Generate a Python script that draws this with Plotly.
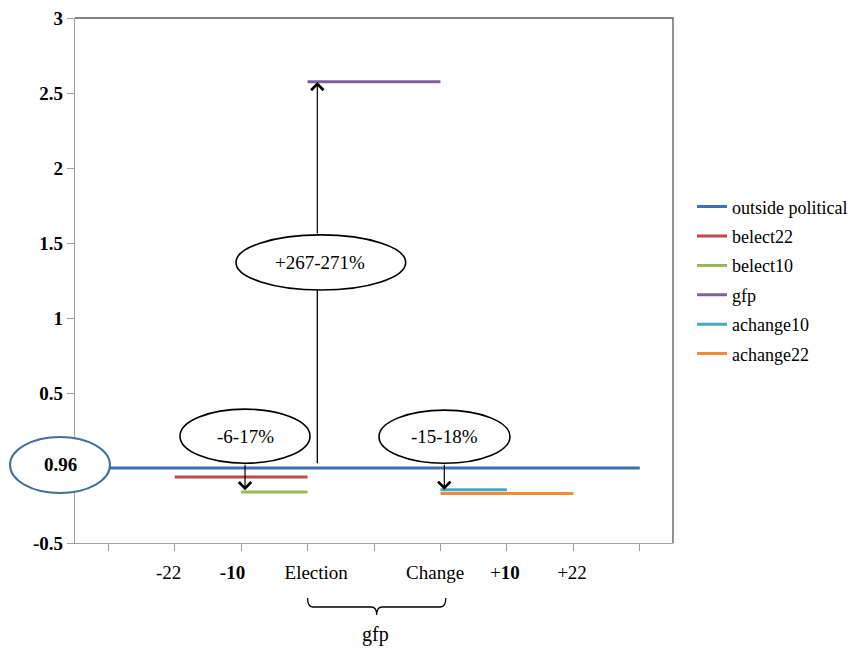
import plotly.graph_objects as go

# ---------------- data ----------------
positions = list(range(9))  # category slots along the x axis
tick_positions = [0.91, 1.87, 3.13, 4.92, 5.97, 6.98]
tick_labels = ["-22", "<b>-10</b>", "Election", "Change", "+<b>10</b>", "+22"]

y_tick_values = [-0.5, 0, 0.5, 1, 1.5, 2, 2.5, 3]
y_tick_labels = ["-0.5", "", "0.5", "1", "1.5", "2", "2.5", "3"]  # 0 is hidden behind the 0.96 ellipse

series_names = ["outside political", "belect22", "belect10", "gfp", "achange10", "achange22"]
outside_political = [0, 0, 0, 0, 0, 0, 0, 0, 0]
belect22 = [None, -0.06, -0.06, -0.06, None, None, None, None, None]
belect10 = [None, None, -0.16, -0.16, None, None, None, None, None]
gfp = [None, None, None, 2.575, 2.575, 2.575, None, None, None]
achange10 = [None, None, None, None, None, -0.145, -0.145, None, None]
achange22 = [None, None, None, None, None, -0.17, -0.17, -0.17, None]
series_values = [outside_political, belect22, belect10, gfp, achange10, achange22]
series_colors = ["#3F6FAE", "#BE4B48", "#98B954", "#7D60A0", "#46AAC4", "#F28A3C"]

baseline_label = "0.96"
callouts = ["-6-17%", "+267-271%", "-15-18%"]
brace_label = "gfp"

FONT = "Liberation Serif, DejaVu Serif, Times New Roman, serif"

fig = go.Figure()
for name, vals, col in zip(series_names, series_values, series_colors):
    fig.add_trace(go.Scatter(
        x=positions, y=vals, mode="lines", name=name,
        line=dict(color=col, width=3), legendgroup=name,
        connectgaps=False, hoverinfo="skip"))

shapes = []
# top/right frame
shapes.append(dict(type="path", xref="x domain", yref="y domain",
                   path="M0,1 L1,1 L1,0", line=dict(color="#595959", width=1.3),
                   layer="above"))
# ellipses (callouts)
shapes.append(dict(type="circle", xref="x", yref="y", x0=1.080, x1=3.037, y0=0.032, y1=0.3925,
                   line=dict(color="black", width=1.6), fillcolor="white", layer="above"))
shapes.append(dict(type="circle", xref="x", yref="y", x0=1.923, x1=4.477, y0=1.187, y1=1.554,
                   line=dict(color="black", width=1.6), fillcolor="white", layer="above"))
shapes.append(dict(type="circle", xref="x", yref="y", x0=4.075, x1=6.047, y0=0.032, y1=0.386,
                   line=dict(color="black", width=1.6), fillcolor="white", layer="above"))
# baseline ellipse covering the 0 tick
shapes.append(dict(type="circle", xref="paper", yref="paper", x0=-0.1087, x1=0.0585, y0=0.0952, y1=0.2019,
                   line=dict(color="#41719C", width=2), fillcolor="white", layer="above"))
# vertical line under the +267-271% callout
shapes.append(dict(type="line", xref="x", yref="y", x0=3.147, x1=3.147, y0=0.032, y1=1.187,
                   line=dict(color="black", width=1.3), layer="above"))
# brace under Election..Change
shapes.append(dict(type="path", xref="x", yref="paper",
                   path="M3.0,-0.1048 Q3.0,-0.1219 3.08,-0.1219 L3.96,-0.1219 Q4.04,-0.1219 4.04,-0.137 "
                        "Q4.04,-0.1219 4.12,-0.1219 L5.0,-0.1219 Q5.08,-0.1219 5.08,-0.1048",
                   line=dict(color="black", width=1.3)))

annotations = []
tf = dict(family=FONT, size=19, color="black")
common = dict(showarrow=False, xanchor="center", yanchor="middle")
annotations.append(dict(x=2.059, y=0.212, xref="x", yref="y", text=callouts[0], font=tf, **common))
annotations.append(dict(x=3.187, y=1.367, xref="x", yref="y", text=callouts[1], font=tf, **common))
annotations.append(dict(x=5.06, y=0.212, xref="x", yref="y", text=callouts[2], font=tf, **common))
annotations.append(dict(x=-0.025, y=0.1486, xref="paper", yref="paper", text="<b>" + baseline_label + "</b>",
                        font=dict(family=FONT, size=19, color="black"), **common))
annotations.append(dict(x=4.03, y=-0.175, xref="x", yref="paper", text=brace_label,
                        font=dict(family=FONT, size=20, color="black"), **common))
# arrows
for xa, ytail, yhead in [(2.059, 0.032, -0.148), (3.147, 1.554, 2.573), (5.058, 0.032, -0.145)]:
    annotations.append(dict(x=xa, y=yhead, xref="x", yref="y", ax=xa, ay=ytail, axref="x", ayref="y",
                            text="", showarrow=True, arrowhead=4, arrowsize=2, arrowwidth=1.2,
                            arrowcolor="black", standoff=0, startstandoff=0))

fig.update_layout(
    width=859, height=650,
    margin=dict(l=75, r=186, t=18, b=107, autoexpand=False),
    paper_bgcolor="white", plot_bgcolor="white",
    showlegend=True,
    legend=dict(x=1.0318, xanchor="left", y=0.6754, yanchor="top",
                font=dict(family=FONT, size=18, color="black"),
                traceorder="grouped", tracegroupgap=3, bgcolor="rgba(0,0,0,0)"),
    shapes=shapes, annotations=annotations,
)
fig.update_xaxes(range=[-0.5, 8.5], showgrid=False, zeroline=False, showline=True,
                 linecolor="#A0A0A0", linewidth=1.3,
                 tickmode="array", tickvals=tick_positions, ticktext=tick_labels, ticks="",
                 tickfont=dict(family=FONT, size=19, color="black"),
                 minor=dict(tickmode="array", tickvals=positions, ticks="outside", ticklen=7,
                            tickcolor="#A0A0A0", tickwidth=1, showgrid=False),
                 ticklabelstandoff=12)
fig.update_yaxes(range=[-0.5, 3], showgrid=False, zeroline=False, showline=True,
                 linecolor="#A0A0A0", linewidth=1.3,
                 tickmode="array", tickvals=y_tick_values, ticktext=y_tick_labels,
                 ticks="outside", ticklen=7, tickcolor="#A0A0A0",
                 tickfont=dict(family=FONT, size=19, color="black", weight="bold"))

fig.write_html("out.html")
